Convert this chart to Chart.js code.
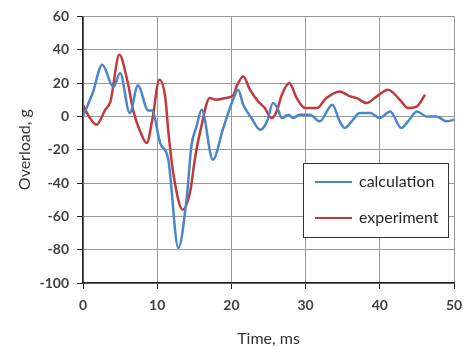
<!DOCTYPE html>
<html>
<head>
<meta charset="utf-8">
<script src="https://cdn.jsdelivr.net/npm/chart.js@4"></script>
<style>
  body { margin: 0; background: #fff; }
  #wrap { width: 472px; height: 352px; }
</style>
</head>
<body>
<div id="wrap"><canvas id="myChart" width="472" height="352"></canvas></div>
<script>
// values
var calcTime = [0, 1.3, 2.6, 4.1, 5.0, 6.3, 7.4, 8.8, 9.3, 10.4, 11.5, 12.85, 14.0, 14.6, 15.3, 16.0, 17.5, 18.9, 20.3, 20.9, 21.6, 22.7, 23.9, 24.8, 25.6, 26.2, 26.8, 27.7, 28.3, 29.2, 30.6, 31.9, 33.6, 34.6, 35.3, 36.2, 37.3, 38.7, 40.0, 41.4, 42.9, 43.8, 45.0, 46.3, 47.6, 49.0, 50];
var calcLoad = [0, 14, 31, 17.5, 26, 2, 18.5, 3.5, 3.5, -16, -26, -79, -48, -18, -6, 4, -26, -7, 11, 16, 7, -1, -8, -3, 8, 5, -1, 1, -1, 1, 1, -3, 7, -3, -7, -3, 2, 2, -1, 3, -7, -3, 3, 0, 0, -3, -2];

var expTime = [0, 0.8, 1.8, 3.0, 3.7, 4.9, 5.9, 6.8, 7.7, 8.6, 9.3, 10.3, 11.1, 11.5, 12.2, 13.45, 14.45, 15.1, 15.8, 17.1, 17.9, 19.2, 20.3, 20.7, 21.6, 22.5, 23.6, 24.5, 25.4, 26.1, 26.8, 27.8, 28.8, 29.9, 31.5, 32.8, 34.6, 36.0, 36.9, 38.2, 39.6, 41.1, 42.7, 43.8, 45.0, 46.1];
var expLoad = [7, 0, -5, 4, 9, 37, 23, 3, -9, -16, -3, 22, 11, -9, -35, -56, -45, -25, -9, 11, 10, 11, 13, 18, 24, 16, 9, 5, -1, 3, 13, 20, 11, 5, 5, 11, 15, 12, 11, 8, 12, 16, 10, 5, 6, 13];

var seriesNames = ["calculation", "experiment"];
var xTicks = [0, 10, 20, 30, 40, 50];
var yTicks = [-100, -80, -60, -40, -20, 0, 20, 40, 60];

function pts(xs, ys) {
  return xs.map(function (x, i) { return { x: x, y: ys[i] }; });
}

// legend box drawn inside the plot, like the original
var boxLegend = {
  id: 'boxLegend',
  afterDraw: function (chart) {
    var c = chart.ctx;
    c.save();
    c.fillStyle = '#fff';
    c.fillRect(303, 163, 145, 74);
    c.strokeStyle = '#333';
    c.lineWidth = 1;
    c.strokeRect(303.5, 163.5, 145, 74);
    c.font = '16px Lato';
    c.textBaseline = 'middle';
    chart.data.datasets.forEach(function (ds, i) {
      var y = 182 + i * 36;
      c.strokeStyle = ds.borderColor;
      c.lineWidth = 2;
      c.beginPath();
      c.moveTo(315, y);
      c.lineTo(352, y);
      c.stroke();
      c.fillStyle = '#262626';
      c.fillText(ds.label, 359, y);
    });
    c.restore();
  }
};

var ctx = document.getElementById("myChart").getContext('2d');
var myChart = new Chart(ctx, {
  type: 'scatter',
  data: {
    datasets: [{
      label: seriesNames[0],
      data: pts(calcTime, calcLoad),
      showLine: true,
      borderColor: '#4a86c8',
      borderWidth: 2.5,
      pointRadius: 0,
      cubicInterpolationMode: 'monotone'
    }, {
      label: seriesNames[1],
      data: pts(expTime, expLoad),
      showLine: true,
      borderColor: '#c0393b',
      borderWidth: 2.5,
      pointRadius: 0,
      cubicInterpolationMode: 'monotone'
    }]
  },
  options: {
    responsive: false,
    animation: false,
    layout: { padding: { left: 0, top: 15, right: 18, bottom: 0 } },
    plugins: { legend: { display: false }, tooltip: { enabled: false } },
    scales: {
      x: {
        type: 'linear', min: 0, max: 50,
        afterBuildTicks: function (s) { s.ticks = xTicks.map(function (v) { return { value: v }; }); },
        afterFit: function (s) { s.height = 69; },
        grid: { color: '#999', tickColor: '#222', tickLength: 6 },
        border: { color: '#222', width: 1.5 },
        ticks: { color: '#404040', padding: 8, font: { family: 'Lato', size: 14, weight: 'bold' } },
        title: { display: true, text: 'Time, ms', color: '#333', padding: { top: 2 }, font: { family: 'Lato', size: 16 } }
      },
      y: {
        type: 'linear', min: -100, max: 60,
        afterBuildTicks: function (s) { s.ticks = yTicks.map(function (v) { return { value: v }; }); },
        afterFit: function (s) { s.width = 83; },
        grid: { color: '#999', tickColor: '#222', tickLength: 6 },
        border: { color: '#222', width: 1.5 },
        ticks: { color: '#404040', padding: 8, font: { family: 'Lato', size: 14, weight: 'bold' } },
        title: { display: true, text: 'Overload, g', color: '#333', padding: { top: 15 }, font: { family: 'Lato', size: 16 } }
      }
    }
  },
  plugins: [boxLegend]
});
</script>
</body>
</html>
